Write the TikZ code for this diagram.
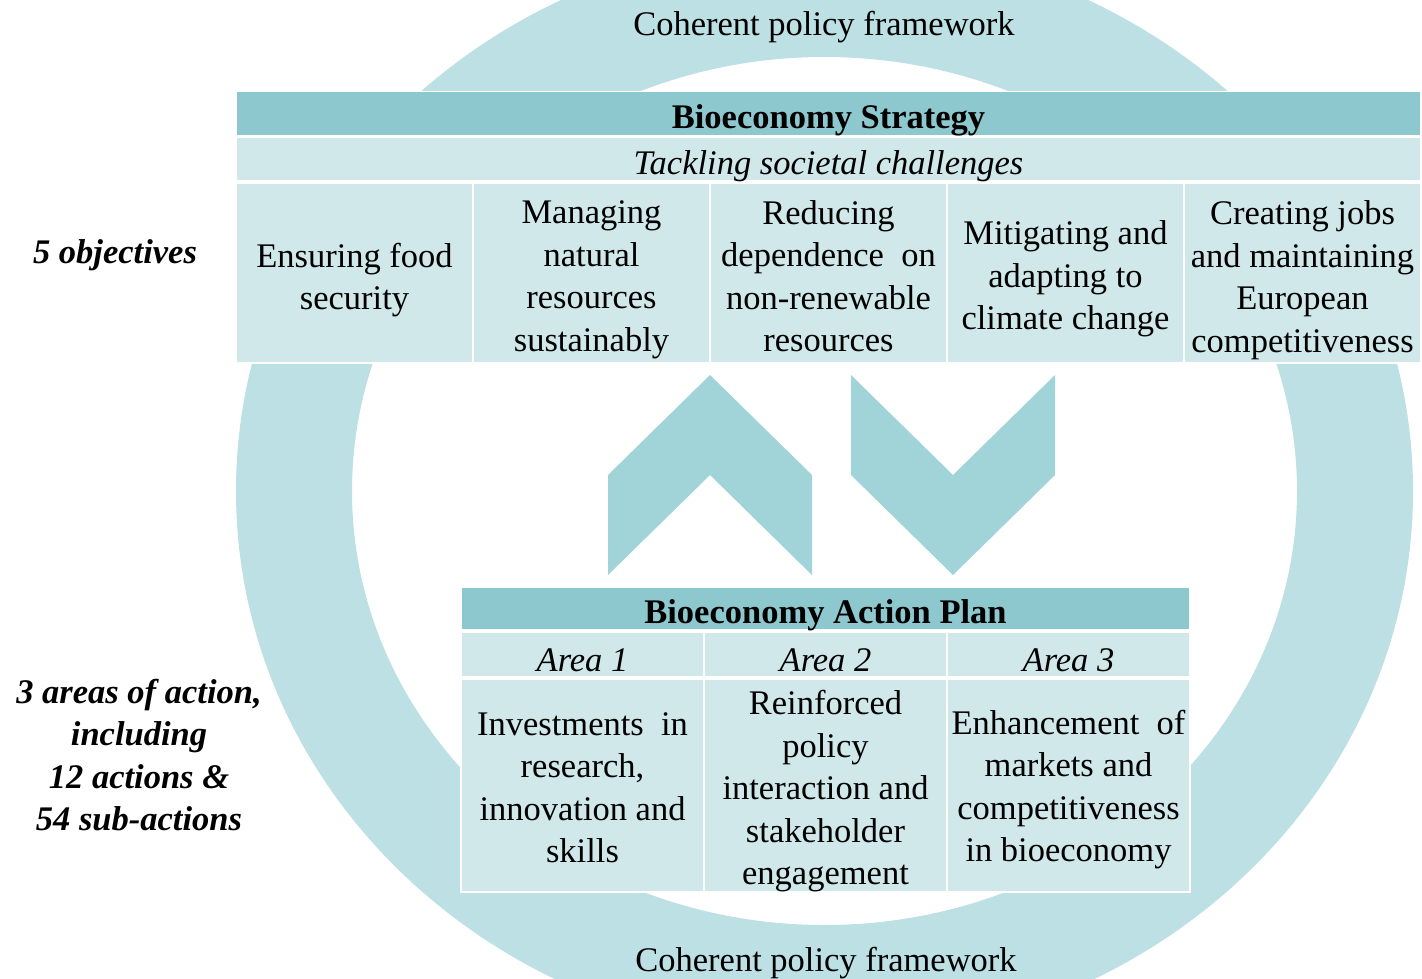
\documentclass[tikz,border=0pt]{standalone}
\usepackage{fontspec}
\setmainfont{Liberation Serif}
\definecolor{ringc}{HTML}{BCE0E3}
\definecolor{chevc}{HTML}{A0D4D8}
\definecolor{headc}{HTML}{8DC8CF}
\definecolor{cellc}{HTML}{D0E8EA}
\begin{document}
\begin{tikzpicture}[x=1pt,y=-1pt,
  txt/.style={inner sep=0pt, align=center, font=\fontsize{34.5}{42.5}\selectfont},
  btxt/.style={txt, font=\fontsize{34.5}{42.5}\selectfont\bfseries},
  itxt/.style={txt, font=\fontsize{34.5}{42.5}\selectfont\itshape},
  sidelabel/.style={txt, font=\fontsize{34.5}{42.5}\selectfont\bfseries\itshape},
  cell/.style={draw=white, line width=1.5pt, fill=cellc, inner sep=0pt},
  headcell/.style={cell, fill=headc},
  chevron/.style={fill=chevc}
]
\useasboundingbox (0,0) rectangle (1422,978);
% ring
\fill[ringc, even odd rule] (824.5,491) ellipse [x radius=588.5pt, y radius=549pt]
                            (824.5,491) ellipse [x radius=472.5pt, y radius=434pt];
% chevrons
\fill[chevron] (710,375) -- (812,475) -- (812,575) -- (710,475) -- (608,575) -- (608,475) -- cycle;
\fill[chevron] (851,375) -- (953,475) -- (1055,375) -- (1055,475) -- (953,575) -- (851,475) -- cycle;
% ring labels
\node[txt] (cpftop) at (824,27) {Coherent policy framework};
\node[txt] (cpfbot) at (826,963) {Coherent policy framework};
% strategy table
\node[headcell, minimum width=1185pt, minimum height=44pt] (bs) at (828.5,113.5) {};
\node[cell, minimum width=1185pt, minimum height=44pt] (tsc) at (828.5,159) {};
\node[cell, minimum width=237pt, minimum height=180pt] (o1) at (354.5,273) {};
\node[cell, minimum width=237pt, minimum height=180pt] (o2) at (591.5,273) {};
\node[cell, minimum width=237pt, minimum height=180pt] (o3) at (828.5,273) {};
\node[cell, minimum width=237pt, minimum height=180pt] (o4) at (1065.5,273) {};
\node[cell, minimum width=237pt, minimum height=180pt] (o5) at (1302.5,273) {};
\node[btxt] (bst) at ([yshift=-7pt]bs.center) {Bioeconomy Strategy};
\node[itxt] (tsct) at ([yshift=-7pt]tsc.center) {Tackling societal challenges};
\node[txt] (o1t) at ([yshift=-7pt]o1.center) {Ensuring food\\security};
\node[txt] (o2t) at ([yshift=-7pt]o2.center) {Managing\\natural\\resources\\sustainably};
\node[txt] (o3t) at ([yshift=-3pt]o3.center) {Reducing\\dependence\enspace on\\non-renewable\\resources};
\node[txt] (o4t) at ([yshift=-6pt]o4.center) {Mitigating and\\adapting to\\climate change};
\node[txt] (o5t) at ([yshift=-7pt]o5.center) {Creating jobs\\and maintaining\\European\\competitiveness};
% action plan table
\node[headcell, minimum width=729pt, minimum height=43pt] (bap) at (825.5,608.5) {};
\node[cell, minimum width=243pt, minimum height=45pt] (a1) at (582.5,654.5) {};
\node[cell, minimum width=243pt, minimum height=45pt] (a2) at (825.5,654.5) {};
\node[cell, minimum width=243pt, minimum height=45pt] (a3) at (1068.5,654.5) {};
\node[cell, minimum width=243pt, minimum height=213pt] (c1) at (582.5,785.5) {};
\node[cell, minimum width=243pt, minimum height=213pt] (c2) at (825.5,785.5) {};
\node[cell, minimum width=243pt, minimum height=213pt] (c3) at (1068.5,785.5) {};
\node[btxt] (bapt) at ([yshift=-7pt]bap.center) {Bioeconomy Action Plan};
\node[itxt] (a1t) at ([yshift=-6pt]a1.center) {Area 1};
\node[itxt] (a2t) at ([yshift=-6pt]a2.center) {Area 2};
\node[itxt] (a3t) at ([yshift=-6pt]a3.center) {Area 3};
\node[txt] (c1t) at ([yshift=-2pt]c1.center) {Investments\enspace in\\research,\\innovation and\\skills};
\node[txt] (c2t) at ([yshift=-6pt]c2.center) {Reinforced\\policy\\interaction and\\stakeholder\\engagement};
\node[txt] (c3t) at ([yshift=-4pt]c3.center) {Enhancement\enspace of\\markets and\\competitiveness\\in bioeconomy};
% side labels
\node[sidelabel] (obj) at (115,255) {5 objectives};
\node[sidelabel] (areas) at (139,755) {3 areas of action,\\including\\12 actions \&\\54 sub-actions};
\end{tikzpicture}
\end{document}
